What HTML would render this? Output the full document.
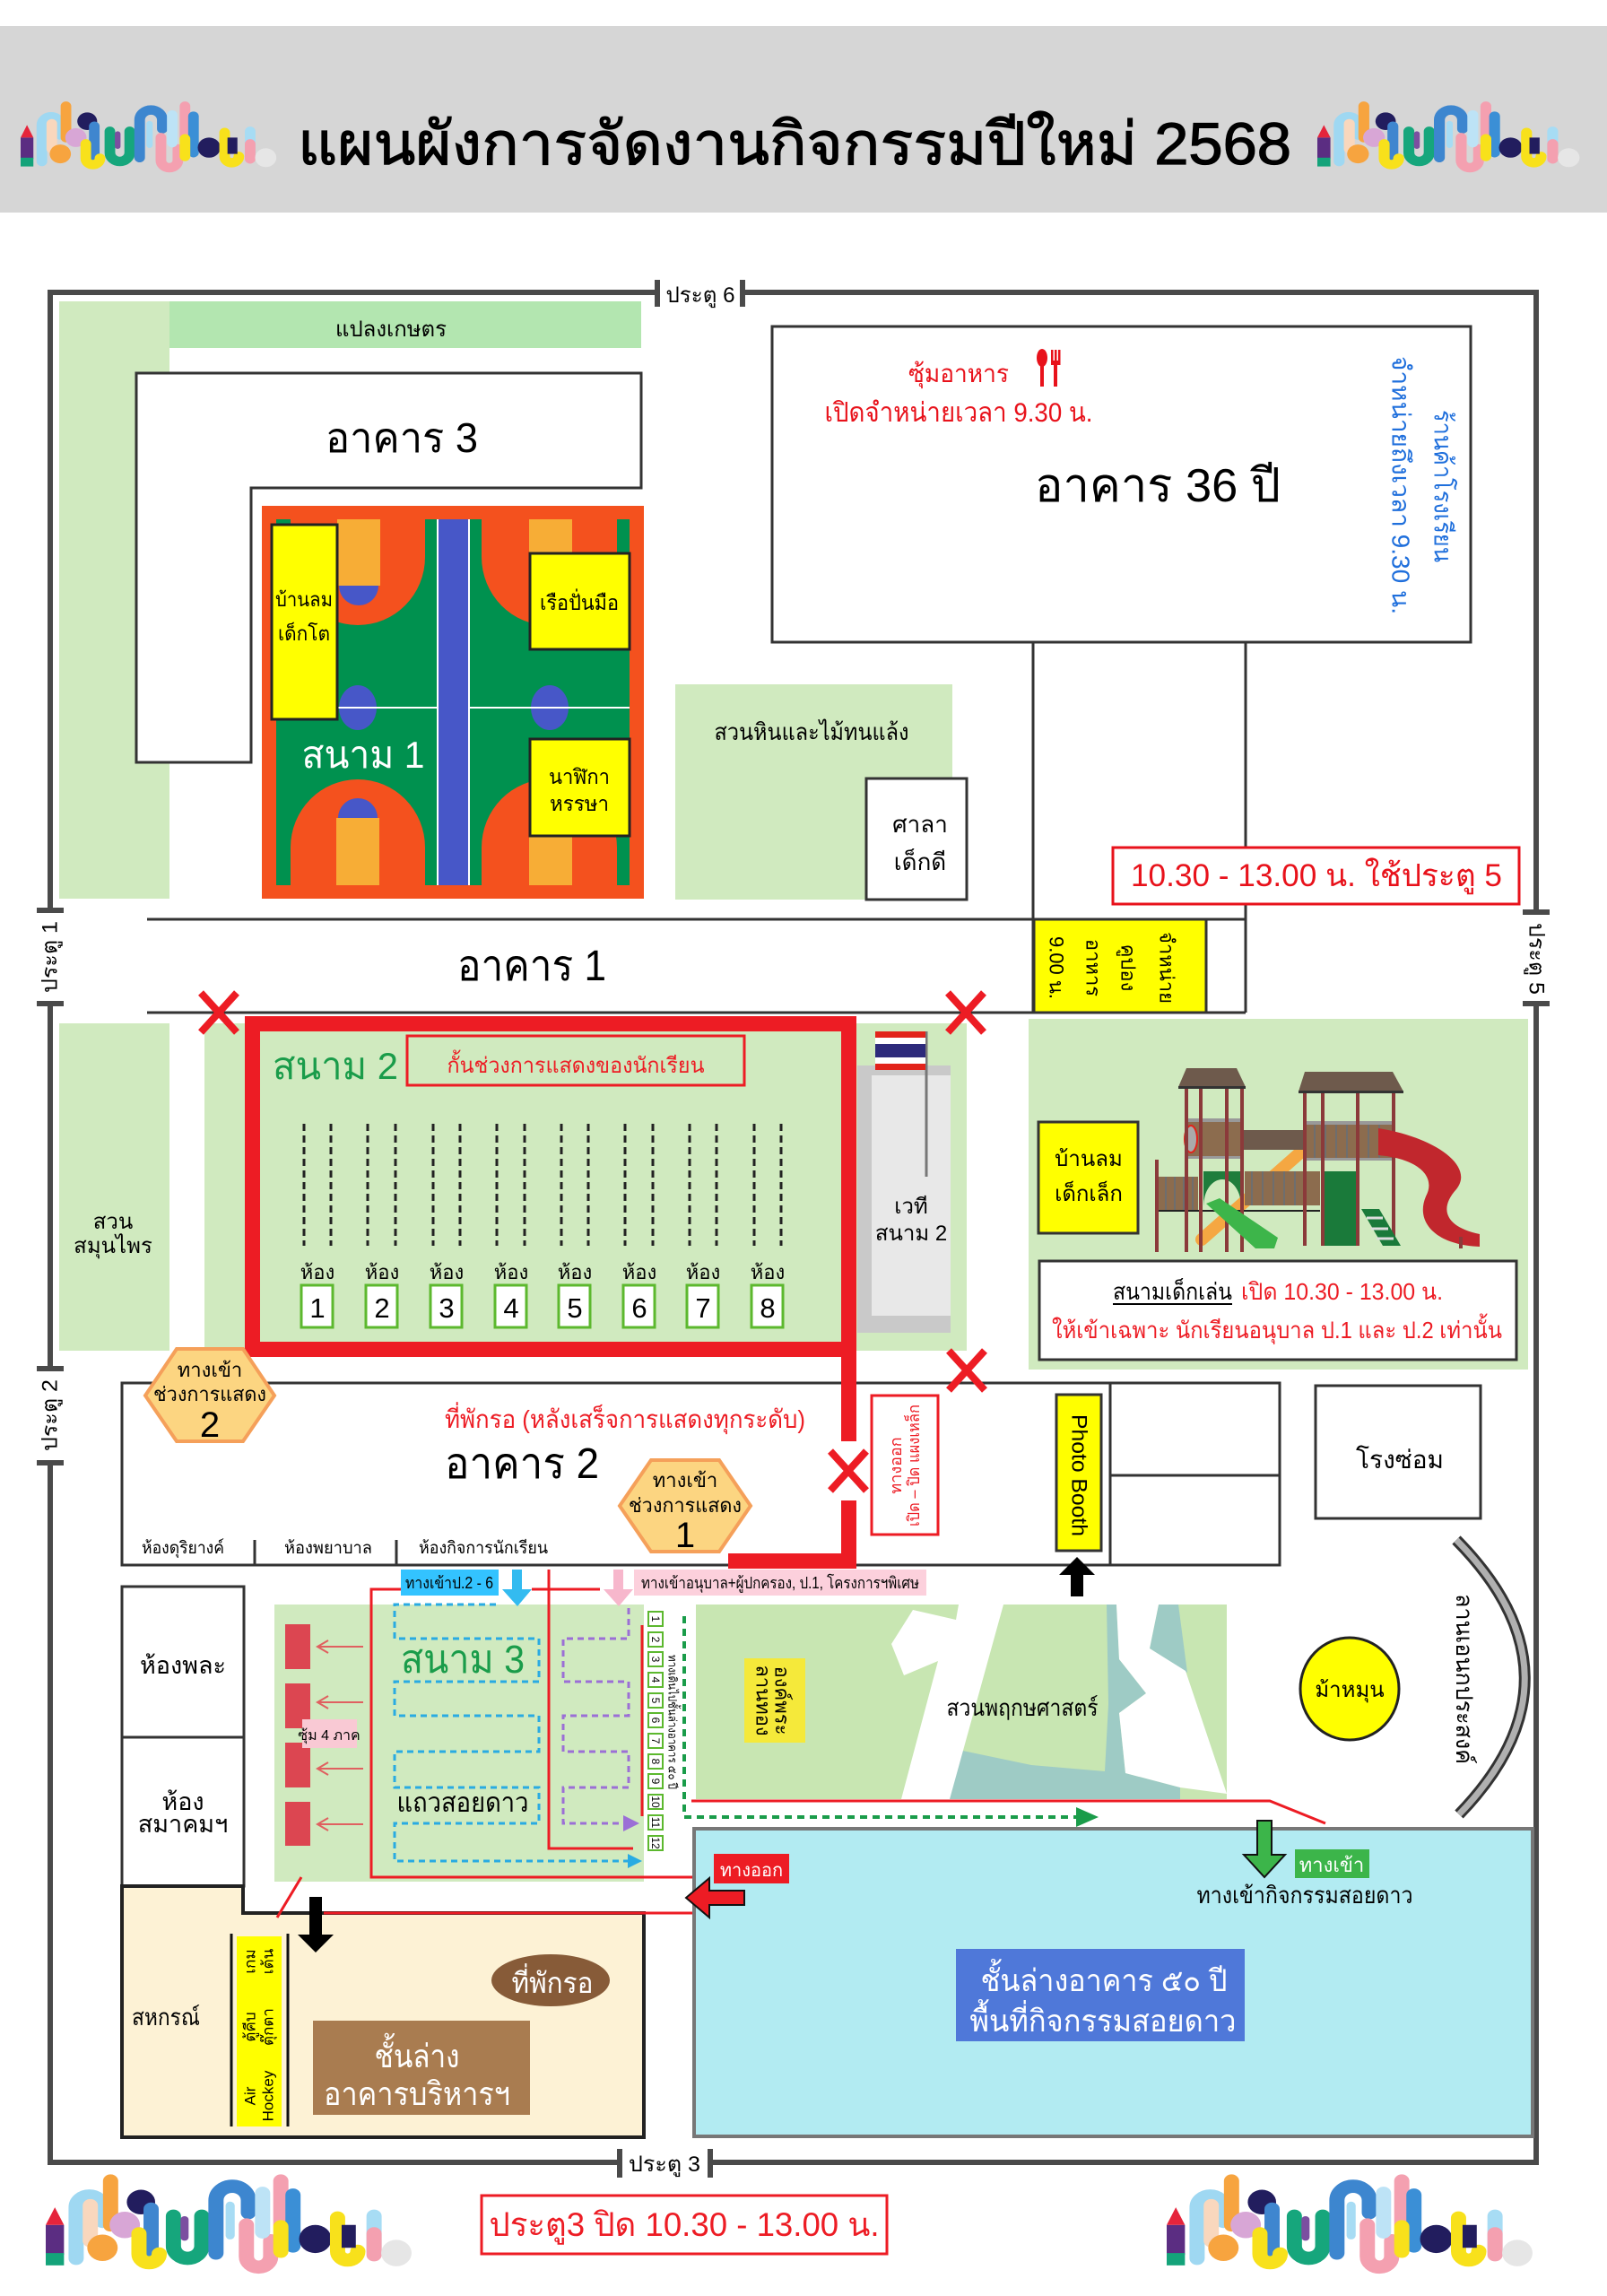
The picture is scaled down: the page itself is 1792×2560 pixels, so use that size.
<!DOCTYPE html>
<html><head><meta charset="utf-8">
<style>
html,body{margin:0;padding:0;background:#fff;}
svg{display:block;}
.t{font-family:"Liberation Sans","DejaVu Sans",sans-serif;}
</style></head>
<body>
<svg width="1792" height="2560" viewBox="0 0 1792 2560" xmlns="http://www.w3.org/2000/svg" class="t">
<defs>
<g id="logo" fill="none" stroke-linecap="round" stroke-width="15">
<rect x="0" y="62" width="18" height="34" fill="#5b2d82" stroke="none"/>
<rect x="0" y="94" width="18" height="14" fill="#14a37a" stroke="none"/>
<path d="M0,62 L9,42 L18,62Z" fill="#e5243b" stroke="none"/>
<path d="M30,100 V42 A13,13 0 0 1 56,42 V58" stroke="#9fd8f2"/>
<path d="M44,40 V80" stroke="#f9d7bd"/>
<circle cx="56" cy="88" r="15" fill="#f7a43f" stroke="none"/>
<path d="M64,12 V62" stroke="#f7a43f"/>
<circle cx="78" cy="62" r="15" fill="#d8a6d6" stroke="none"/>
<circle cx="94" cy="36" r="14" fill="#221d5e" stroke="none"/>
<path d="M104,44 V96" stroke="#3f86cf"/>
<path d="M92,72 V95 A10,10 0 0 0 112,95" stroke="#f8e11b"/>
<path d="M126,52 V86 A14,14 0 0 0 154,86 V52" stroke="#16a67c"/>
<path d="M137,56 V76" stroke="#7b4fa0" stroke-width="8"/>
<path d="M168,94 V34 A16,16 0 0 1 200,34 V48" stroke="#3d86cf"/>
<path d="M182,40 V74" stroke="#a7dcf4" stroke-width="9"/>
<path d="M198,62 V98 A12,12 0 0 0 222,98 V80" stroke="#f4a0b0"/>
<path d="M214,26 V70" stroke="#bde3f6"/>
<path d="M232,12 V62" stroke="#f4a0b0"/>
<path d="M244,28 V86" stroke="#3b8fd6"/>
<path d="M232,64 V92" stroke="#f8e11b"/>
<circle cx="266" cy="78" r="16" fill="#221d5e" stroke="none"/>
<path d="M288,54 V92 A10,10 0 0 0 308,92" stroke="#f8e11b"/>
<rect x="292" y="62" width="14" height="26" fill="#221d5e" stroke="none"/>
<path d="M324,52 V92" stroke="#a7dcf4"/>
<path d="M324,72 V96" stroke="#f4a0b0"/>
<circle cx="346" cy="94" r="15" fill="#e6e6e6" stroke="none"/>
</g>
</defs>

<!-- HEADER -->
<rect x="0" y="29" width="1792" height="208" fill="#d6d6d6"/>
<use href="#logo" transform="translate(23,110) scale(0.79,0.70)"/>
<use href="#logo" transform="translate(1469,110) scale(0.81,0.70)"/>
<text x="886" y="183" font-size="66" text-anchor="middle" textLength="1108" lengthAdjust="spacingAndGlyphs" fill="#000" stroke="#000" stroke-width="1.2">แผนผังการจัดงานกิจกรรมปีใหม่ 2568</text>

<!-- GREEN AREAS -->
<rect x="66" y="336" width="123" height="666" fill="#d0eabf"/>
<rect x="189" y="336" width="526" height="52" fill="#b3e6b0"/>
<rect x="753" y="763" width="309" height="240" fill="#d0eabf"/>
<rect x="66" y="1141" width="123" height="365" fill="#d0eabf"/>
<rect x="228" y="1141" width="850" height="365" fill="#d0eabf"/>
<rect x="1147" y="1136" width="557" height="391" fill="#d0eabf"/>
<rect x="306" y="1789" width="412" height="309" fill="#d0eabf"/>
<rect x="776" y="1789" width="592" height="217" fill="#c8e6b2"/>
<!-- botanical garden details -->
<polygon points="1234,1789 1245,1789 1248,1850 1278,1888 1248,1910 1255,1977 1316,1993 1316,2006 1059,2006 1064,1950 1150,1968 1232,1975 1236,1900" fill="#9ecbc5"/>
<polygon points="1292,1789 1314,1789 1324,1865 1282,1838" fill="#9ecbc5"/>
<polygon points="1069,1789 1119,1789 1059,2006 1005,2006 1046,1852 1008,1868 994,1833 1018,1795 1066,1806" fill="#fff"/>
<polygon points="1245,1789 1292,1789 1282,1838 1322,1863 1368,2000 1316,1993 1255,1977 1248,1910 1278,1888 1248,1850" fill="#fff"/>

<!-- OUTER WALL -->
<g stroke="#4a4a4a" stroke-width="6" fill="none">
<path d="M733,326 H56 V1015"/>
<path d="M828,326 H1713 V1017"/>
<path d="M56,1119 V1526"/>
<path d="M56,1631 V2411 H691"/>
<path d="M1713,1119 V2411 H792"/>
<path d="M733,312 V342 M828,312 V342 M691,2396 V2428 M792,2396 V2428"/>
<path d="M41,1015 H71 M41,1119 H71 M41,1526 H71 M41,1631 H71 M1698,1017 H1728 M1698,1119 H1728"/>
</g>
<text x="781" y="337" font-size="24" text-anchor="middle" textLength="77" lengthAdjust="spacingAndGlyphs">ประตู 6</text>
<text x="741" y="2421" font-size="24" text-anchor="middle" textLength="80" lengthAdjust="spacingAndGlyphs">ประตู 3</text>
<text transform="translate(56,1067) rotate(-90)" font-size="24" text-anchor="middle" dominant-baseline="central" textLength="80" lengthAdjust="spacingAndGlyphs">ประตู 1</text>
<text transform="translate(56,1578) rotate(-90)" font-size="24" text-anchor="middle" dominant-baseline="central" textLength="80" lengthAdjust="spacingAndGlyphs">ประตู 2</text>
<text transform="translate(1713,1069) rotate(90)" font-size="24" text-anchor="middle" dominant-baseline="central" textLength="80" lengthAdjust="spacingAndGlyphs">ประตู 5</text>

<!-- TOP LEFT -->
<text x="436" y="375" font-size="24" text-anchor="middle" textLength="124" lengthAdjust="spacingAndGlyphs">แปลงเกษตร</text>
<polygon points="152,416 715,416 715,544 280,544 280,850 152,850" fill="#fff" stroke="#333" stroke-width="3"/>
<text x="448" y="504" font-size="46" text-anchor="middle" textLength="170" lengthAdjust="spacingAndGlyphs">อาคาร 3</text>

<!-- COURT 1 -->
<rect x="292" y="564" width="426" height="438" fill="#f4511e"/>
<rect x="308" y="579" width="394" height="408" fill="#00914f"/>
<g fill="#f4511e">
<path d="M324,579 V621 A75,76 0 0 0 474,621 V579 Z"/>
<path d="M324,987 V945 A75,76 0 0 1 474,945 V987 Z"/>
<path d="M537,579 V621 A75,76 0 0 0 688,621 V579 Z"/>
<path d="M537,987 V945 A75,76 0 0 1 688,945 V987 Z"/>
</g>
<g fill="#f7ad36">
<rect x="376" y="579" width="48" height="74"/>
<rect x="375" y="912" width="48" height="75"/>
<rect x="590" y="579" width="48" height="74"/>
<rect x="590" y="912" width="48" height="75"/>
</g>
<g fill="#4757c8">
<path d="M378,653 A22,22 0 0 0 422,653 Z"/>
<path d="M377,912 A22,22 0 0 1 421,912 Z"/>
<path d="M592,653 A22,22 0 0 0 636,653 Z"/>
<path d="M592,912 A22,22 0 0 1 636,912 Z"/>
<ellipse cx="399" cy="789" rx="21" ry="25"/>
<ellipse cx="613" cy="789" rx="21" ry="25"/>
<rect x="488" y="579" width="35" height="408"/>
</g>
<path d="M308,789 H488 M523,789 H702 M488,579 V987 M523,579 V987" stroke="#fff" stroke-width="2"/>
<g fill="#ffff00" stroke="#222" stroke-width="3">
<rect x="303" y="585" width="73" height="217"/>
<rect x="591" y="617" width="111" height="107"/>
<rect x="591" y="824" width="111" height="108"/>
</g>
<text x="339" y="676" font-size="22" text-anchor="middle" textLength="64" lengthAdjust="spacingAndGlyphs">บ้านลม</text>
<text x="339" y="714" font-size="22" text-anchor="middle" textLength="58" lengthAdjust="spacingAndGlyphs">เด็กโต</text>
<text x="646" y="680" font-size="23" text-anchor="middle" textLength="88" lengthAdjust="spacingAndGlyphs">เรือปั่นมือ</text>
<text x="646" y="874" font-size="23" text-anchor="middle" textLength="68" lengthAdjust="spacingAndGlyphs">นาฬิกา</text>
<text x="646" y="904" font-size="23" text-anchor="middle" textLength="66" lengthAdjust="spacingAndGlyphs">หรรษา</text>
<text x="405" y="856" font-size="42" text-anchor="middle" fill="#fff" textLength="137" lengthAdjust="spacingAndGlyphs">สนาม 1</text>

<!-- TOP RIGHT -->
<rect x="861" y="364" width="779" height="352" fill="#fff" stroke="#333" stroke-width="3"/>
<text x="1069" y="426" font-size="28" text-anchor="middle" fill="#e8121b" textLength="112" lengthAdjust="spacingAndGlyphs">ซุ้มอาหาร</text>
<g fill="#e8121b">
<ellipse cx="1162" cy="399" rx="6" ry="10"/>
<rect x="1160" y="405" width="4" height="26"/>
<rect x="1172" y="390" width="2.5" height="14"/><rect x="1176" y="390" width="2.5" height="14"/><rect x="1180" y="390" width="2.5" height="14"/>
<rect x="1172" y="402" width="10.5" height="5"/>
<rect x="1175" y="405" width="4" height="26"/>
</g>
<text x="1069" y="470" font-size="30" text-anchor="middle" fill="#e8121b" textLength="299" lengthAdjust="spacingAndGlyphs">เปิดจำหน่ายเวลา 9.30 น.</text>
<text x="1291" y="559" font-size="52" text-anchor="middle" textLength="274" lengthAdjust="spacingAndGlyphs">อาคาร 36 ปี</text>
<text transform="translate(1609,542) rotate(90)" font-size="28" fill="#1f6fdc" text-anchor="middle" dominant-baseline="central" textLength="170" lengthAdjust="spacingAndGlyphs">ร้านค้าโรงเรียน</text>
<text transform="translate(1562,541) rotate(90)" font-size="28" fill="#1f6fdc" text-anchor="middle" dominant-baseline="central" textLength="288" lengthAdjust="spacingAndGlyphs">จำหน่ายถึงเวลา 9.30 น.</text>
<path d="M1152,716 V1129 M1389,716 V1129" stroke="#333" stroke-width="3"/>
<text x="905" y="825" font-size="26" text-anchor="middle" textLength="217" lengthAdjust="spacingAndGlyphs">สวนหินและไม้ทนแล้ง</text>
<rect x="966" y="868" width="112" height="135" fill="#fff" stroke="#333" stroke-width="3"/>
<text x="1026" y="928" font-size="26" text-anchor="middle">ศาลา</text>
<text x="1026" y="970" font-size="26" text-anchor="middle">เด็กดี</text>
<rect x="1241" y="945" width="453" height="63" fill="#fff" stroke="#e8121b" stroke-width="3"/>
<text x="1468" y="988" font-size="35" text-anchor="middle" fill="#e8121b" textLength="414" lengthAdjust="spacingAndGlyphs">10.30 - 13.00 น. ใช้ประตู 5</text>

<!-- BUILDING 1 -->
<path d="M164,1025 H1389 M164,1129 H1389" stroke="#333" stroke-width="3"/>
<rect x="1153" y="1025" width="192" height="104" fill="#ffff00" stroke="#333" stroke-width="3"/>
<g font-size="22" text-anchor="middle" dominant-baseline="central">
<text transform="translate(1301,1079) rotate(90)">จำหน่าย</text>
<text transform="translate(1258,1079) rotate(90)">คูปอง</text>
<text transform="translate(1219,1079) rotate(90)">อาหาร</text>
<text transform="translate(1178,1079) rotate(90)">9.00 น.</text>
</g>
<text x="593" y="1093" font-size="48" text-anchor="middle" textLength="166" lengthAdjust="spacingAndGlyphs">อาคาร 1</text>

<!-- FIELD 2 -->
<text x="126" y="1370" font-size="24" text-anchor="middle">สวน</text>
<text x="126" y="1397" font-size="24" text-anchor="middle">สมุนไพร</text>
<text x="374" y="1203" font-size="42" text-anchor="middle" fill="#1a9c4a" textLength="140" lengthAdjust="spacingAndGlyphs">สนาม 2</text>
<rect x="454" y="1155" width="376" height="55" fill="none" stroke="#ed1c24" stroke-width="3"/>
<text x="642" y="1196" font-size="24" text-anchor="middle" fill="#ed1c24" textLength="287" lengthAdjust="spacingAndGlyphs">กั้นช่วงการแสดงของนักเรียน</text>
<g stroke="#222" stroke-width="3" stroke-dasharray="8 5">
<path d="M339,1253 V1389 M369,1253 V1389 M410,1253 V1389 M441,1253 V1389 M483,1253 V1389 M513,1253 V1389 M554,1253 V1389 M585,1253 V1389 M626,1253 V1389 M656,1253 V1389 M697,1253 V1389 M728,1253 V1389 M769,1253 V1389 M799,1253 V1389 M841,1253 V1389 M871,1253 V1389"/>
</g>
<g font-size="22" text-anchor="middle">
<text x="354" y="1426">ห้อง</text><text x="426" y="1426">ห้อง</text><text x="498" y="1426">ห้อง</text><text x="570" y="1426">ห้อง</text>
<text x="641" y="1426">ห้อง</text><text x="713" y="1426">ห้อง</text><text x="784" y="1426">ห้อง</text><text x="856" y="1426">ห้อง</text>
</g>
<g fill="#fff" stroke="#5cb82e" stroke-width="3">
<rect x="336" y="1433" width="35" height="47"/><rect x="408" y="1433" width="35" height="47"/><rect x="480" y="1433" width="35" height="47"/><rect x="552" y="1433" width="35" height="47"/>
<rect x="623" y="1433" width="35" height="47"/><rect x="695" y="1433" width="35" height="47"/><rect x="766" y="1433" width="35" height="47"/><rect x="838" y="1433" width="35" height="47"/>
</g>
<g font-size="31" text-anchor="middle">
<text x="354" y="1469">1</text><text x="426" y="1469">2</text><text x="498" y="1469">3</text><text x="570" y="1469">4</text>
<text x="641" y="1469">5</text><text x="713" y="1469">6</text><text x="784" y="1469">7</text><text x="856" y="1469">8</text>
</g>
<!-- stage -->
<rect x="956" y="1188" width="104" height="298" fill="#c9c9c9"/>
<rect x="972" y="1199" width="88" height="268" fill="#e8e8e8"/>
<line x1="1033" y1="1150" x2="1033" y2="1312" stroke="#777" stroke-width="3"/>
<g>
<rect x="976" y="1150" width="56" height="7" fill="#e2231a"/>
<rect x="976" y="1157" width="56" height="7" fill="#fff"/>
<rect x="976" y="1164" width="56" height="15" fill="#2d2a7b"/>
<rect x="976" y="1179" width="56" height="7" fill="#fff"/>
<rect x="976" y="1186" width="56" height="7" fill="#e2231a"/>
</g>
<text x="1016" y="1353" font-size="24" text-anchor="middle">เวที</text>
<text x="1016" y="1383" font-size="24" text-anchor="middle">สนาม 2</text>
<!-- red frame -->
<rect x="281.5" y="1141.5" width="665" height="363" fill="none" stroke="#ed1c24" stroke-width="17"/>

<!-- PLAYGROUND -->
<rect x="1158" y="1251" width="111" height="124" fill="#ffff00" stroke="#333" stroke-width="3"/>
<text x="1214" y="1300" font-size="24" text-anchor="middle">บ้านลม</text>
<text x="1214" y="1339" font-size="24" text-anchor="middle">เด็กเล็ก</text>
<g>
<line x1="1290" y1="1293" x2="1290" y2="1396" stroke="#8b3a3a" stroke-width="4"/>
<rect x="1292" y="1312" width="44" height="38" fill="#8c6c4e"/>
<path d="M1300,1312 V1350 M1310,1312 V1350 M1320,1312 V1350 M1330,1312 V1350" stroke="#6e6e6e" stroke-width="2"/>
<line x1="1449" y1="1286" x2="1340" y2="1382" stroke="#f5a742" stroke-width="14" stroke-linecap="round"/>
<rect x="1386" y="1260" width="82" height="22" fill="#6e5a4c"/>
<rect x="1388" y="1306" width="84" height="38" fill="#8c6c4e"/>
<path d="M1396,1306 V1344 M1408,1306 V1344 M1420,1306 V1344 M1432,1306 V1344 M1444,1306 V1344 M1456,1306 V1344" stroke="#6e6e6e" stroke-width="2"/>
<path d="M1292,1350 H1472" stroke="#222" stroke-width="2"/>
<path d="M1342,1306 H1384 V1345 A21,30 0 0 0 1342,1345 Z" fill="#1f7d3c"/>
<rect x="1321" y="1250" width="65" height="41" fill="#8c6c4e"/>
<rect x="1321" y="1247" width="65" height="4" fill="#999"/>
<rect x="1321" y="1289" width="65" height="3" fill="#999"/>
<ellipse cx="1328" cy="1270" rx="7" ry="15" fill="#aaa" stroke="#e2231a" stroke-width="2"/>
<path d="M1323,1212 V1396 M1339,1212 V1396 M1368,1212 V1396 M1385,1212 V1396" stroke="#8b3a3a" stroke-width="4"/>
<polygon points="1323,1191 1379,1191 1389,1212 1314,1212" fill="#6e5a4c"/>
<rect x="1314" y="1211" width="75" height="3" fill="#333"/>
<rect x="1477" y="1306" width="37" height="83" fill="#1a7a3a"/>
<rect x="1457" y="1253" width="98" height="40" fill="#8c6c4e"/>
<rect x="1457" y="1250" width="98" height="4" fill="#999"/>
<rect x="1457" y="1291" width="98" height="3" fill="#999"/>
<path d="M1466,1254 V1291 M1478,1254 V1291 M1490,1254 V1291 M1502,1254 V1291 M1526,1254 V1291 M1538,1254 V1291" stroke="#6e6e6e" stroke-width="2"/>
<path d="M1455,1217 V1389 M1475,1217 V1389 M1514,1217 V1389 M1554,1217 V1389" stroke="#8b3a3a" stroke-width="4"/>
<polygon points="1455,1195 1553,1195 1565,1217 1448,1217" fill="#6e5a4c"/>
<rect x="1448" y="1216" width="117" height="3" fill="#333"/>
<polygon points="1345,1342 1360,1336 1425,1380 1421,1392 1400,1392" fill="#3db54a"/>
<polygon points="1518,1348 1538,1348 1562,1389 1542,1389" fill="#1a7a3a"/>
<path d="M1524,1358 H1542 M1529,1370 H1548 M1535,1381 H1554" stroke="#ddd" stroke-width="3"/>
<path d="M1537,1258 C1600,1268 1645,1300 1624,1326 C1604,1348 1612,1368 1650,1376 L1650,1390 C1600,1388 1578,1362 1590,1334 C1602,1312 1582,1292 1537,1288 Z" fill="#c1272d"/>
<line x1="1629" y1="1379" x2="1629" y2="1392" stroke="#8b3a3a" stroke-width="4"/>
</g>
<rect x="1159" y="1406" width="532" height="110" fill="#fff" stroke="#333" stroke-width="3"/>
<text x="1241" y="1449" font-size="26" textLength="133" lengthAdjust="spacingAndGlyphs">สนามเด็กเล่น</text>
<line x1="1241" y1="1454" x2="1374" y2="1454" stroke="#000" stroke-width="2"/>
<text x="1384" y="1449" font-size="26" fill="#ed1c24" textLength="225" lengthAdjust="spacingAndGlyphs">เปิด 10.30 - 13.00 น.</text>
<text x="1424" y="1492" font-size="26" fill="#ed1c24" text-anchor="middle" textLength="502" lengthAdjust="spacingAndGlyphs">ให้เข้าเฉพาะ นักเรียนอนุบาล ป.1 และ ป.2 เท่านั้น</text>

<!-- BUILDING 2 -->
<rect x="136" y="1542" width="1291" height="203" fill="#fff" stroke="#333" stroke-width="3"/>
<path d="M1238,1542 V1745 M1238,1645 H1427 M284,1717 V1745 M442,1717 V1745" stroke="#333" stroke-width="3"/>
<path d="M946.5,1500 V1607 M946.5,1673 V1748 M812,1740.5 H955" stroke="#ed1c24" stroke-width="17"/>
<text x="158" y="1732" font-size="19" textLength="92" lengthAdjust="spacingAndGlyphs">ห้องดุริยางค์</text>
<text x="317" y="1732" font-size="19" textLength="98" lengthAdjust="spacingAndGlyphs">ห้องพยาบาล</text>
<text x="467" y="1732" font-size="19" textLength="144" lengthAdjust="spacingAndGlyphs">ห้องกิจการนักเรียน</text>
<text x="697" y="1592" font-size="28" fill="#ed1c24" text-anchor="middle" textLength="402" lengthAdjust="spacingAndGlyphs">ที่พักรอ (หลังเสร็จการแสดงทุกระดับ)</text>
<text x="582" y="1648" font-size="48" text-anchor="middle" textLength="172" lengthAdjust="spacingAndGlyphs">อาคาร 2</text>
<rect x="972" y="1556" width="74" height="155" fill="#fff" stroke="#ed1c24" stroke-width="3"/>
<text transform="translate(999,1634) rotate(-90)" font-size="18" fill="#ed1c24" text-anchor="middle" dominant-baseline="central">ทางออก</text>
<text transform="translate(1019,1634) rotate(-90)" font-size="18" fill="#ed1c24" text-anchor="middle" dominant-baseline="central" textLength="136" lengthAdjust="spacingAndGlyphs">เปิด – ปิด แผงเหล็ก</text>
<rect x="1178" y="1555" width="50" height="174" fill="#ffff00" stroke="#333" stroke-width="3"/>
<text transform="translate(1203,1645) rotate(90)" font-size="24" text-anchor="middle" dominant-baseline="central" textLength="136" lengthAdjust="spacingAndGlyphs">Photo Booth</text>
<polygon points="1201,1736 1221,1756 1208,1756 1208,1780 1194,1780 1194,1756 1181,1756" fill="#000"/>
<rect x="1467" y="1545" width="184" height="148" fill="#fff" stroke="#333" stroke-width="3"/>
<text x="1561" y="1637" font-size="28" text-anchor="middle">โรงซ่อม</text>
<!-- hexagons -->
<polygon points="197,1504 271,1504 306,1556 271,1607 197,1607 162,1556" fill="#fcd581" stroke="#f5a05a" stroke-width="4"/>
<text x="234" y="1535" font-size="22" text-anchor="middle">ทางเข้า</text>
<text x="234" y="1562" font-size="22" text-anchor="middle" textLength="126" lengthAdjust="spacingAndGlyphs">ช่วงการแสดง</text>
<text x="234" y="1602" font-size="40" text-anchor="middle">2</text>
<polygon points="726,1628 802,1628 837,1679 802,1730 726,1730 691,1679" fill="#fcd581" stroke="#f5a05a" stroke-width="4"/>
<text x="764" y="1658" font-size="22" text-anchor="middle">ทางเข้า</text>
<text x="764" y="1686" font-size="22" text-anchor="middle" textLength="126" lengthAdjust="spacingAndGlyphs">ช่วงการแสดง</text>
<text x="764" y="1725" font-size="40" text-anchor="middle">1</text>

<!-- multipurpose arc -->
<path d="M1624,1717 Q1775,1870 1627,2023" fill="none" stroke="#333" stroke-width="13"/>
<path d="M1624,1717 Q1775,1870 1627,2023" fill="none" stroke="#b0b0b0" stroke-width="7"/>
<text transform="translate(1633,1872) rotate(90)" font-size="26" text-anchor="middle" dominant-baseline="central" textLength="190" lengthAdjust="spacingAndGlyphs">ลานเอนกประสงค์</text>
<ellipse cx="1505" cy="1883" rx="55" ry="57" fill="#ffff00" stroke="#222" stroke-width="3"/>
<text x="1505" y="1892" font-size="24" text-anchor="middle">ม้าหมุน</text>
<text x="1140" y="1913" font-size="26" text-anchor="middle" textLength="169" lengthAdjust="spacingAndGlyphs">สวนพฤกษศาสตร์</text>
<rect x="830" y="1849" width="68" height="94" fill="#f5e93a"/>
<text transform="translate(872,1896) rotate(90)" font-size="22" text-anchor="middle" dominant-baseline="central">องค์พระ</text>
<text transform="translate(851,1896) rotate(90)" font-size="22" text-anchor="middle" dominant-baseline="central">ลานทอง</text>

<!-- FIELD 3 area -->
<rect x="136" y="1769" width="136" height="168" fill="#fff" stroke="#333" stroke-width="3"/>
<rect x="136" y="1937" width="136" height="166" fill="#fff" stroke="#333" stroke-width="3"/>
<text x="204" y="1866" font-size="27" text-anchor="middle">ห้องพละ</text>
<text x="204" y="2018" font-size="27" text-anchor="middle">ห้อง</text>
<text x="204" y="2043" font-size="27" text-anchor="middle">สมาคมฯ</text>
<polygon points="136,2103 271,2103 271,2133 718,2133 718,2383 136,2383" fill="#fdf2d5" stroke="#222" stroke-width="4"/>
<g fill="#dc4651">
<rect x="318" y="1811" width="28" height="50"/><rect x="318" y="1877" width="28" height="50"/>
<rect x="318" y="1943" width="28" height="50"/><rect x="318" y="2009" width="28" height="49"/>
</g>
<g stroke="#e06060" stroke-width="2" fill="none">
<path d="M405,1836 H354 M366,1829 L354,1836 L366,1843"/>
<path d="M405,1898 H354 M366,1891 L354,1898 L366,1905"/>
<path d="M405,1972 H354 M366,1965 L354,1972 L366,1979"/>
<path d="M405,2034 H354 M366,2027 L354,2034 L366,2041"/>
</g>
<rect x="337" y="1917" width="61" height="32" fill="#f9c9d4"/>
<text x="367" y="1940" font-size="16" text-anchor="middle">ซุ้ม 4 ภาค</text>
<!-- dashed snakes -->
<path d="M553,1789 H440 V1827 H601 V1875 H440 V1913 H601 V1953 H440 V1993 H601 V2033 H440 V2075 H703" fill="none" stroke="#29abe2" stroke-width="3" stroke-dasharray="7 5"/>
<polygon points="700,2067 716,2075 700,2083" fill="#29abe2"/>
<path d="M701,1793 V1827 H628 V1875 H701 V1913 H628 V1953 H701 V1993 H628 V2033 H697" fill="none" stroke="#9b6fd6" stroke-width="3" stroke-dasharray="7 5"/>
<polygon points="695,2024 713,2033 695,2042" fill="#9b6fd6"/>
<text x="516" y="1865" font-size="44" text-anchor="middle" fill="#1a9c4a" textLength="138" lengthAdjust="spacingAndGlyphs">สนาม 3</text>
<text x="516" y="2020" font-size="30" text-anchor="middle" textLength="147" lengthAdjust="spacingAndGlyphs">แถวสอยดาว</text>
<!-- red thin lines -->
<g stroke="#ed1c24" stroke-width="3" fill="none">
<path d="M447,1772 H414 V2093 H775"/>
<path d="M336,2093 L309,2138"/>
<path d="M361,2133 H775"/>
<path d="M593,1772 H669"/>
<path d="M612,1750 V2061 H706"/>
<path d="M716,1812 V2025"/>
<path d="M771,2008 H1416 L1478,2033"/>
</g>
<!-- entry labels -->
<rect x="447" y="1750" width="109" height="29" fill="#33c3ff"/>
<text x="501" y="1771" font-size="18" text-anchor="middle" textLength="98" lengthAdjust="spacingAndGlyphs">ทางเข้าป.2 - 6</text>
<polygon points="571,1750 582,1750 582,1772 593,1772 577,1791 560,1772 571,1772" fill="#33bbf0"/>
<rect x="707" y="1750" width="326" height="29" fill="#fcd0dc"/>
<text x="870" y="1771" font-size="18" text-anchor="middle" textLength="310" lengthAdjust="spacingAndGlyphs">ทางเข้าอนุบาล+ผู้ปกครอง, ป.1, โครงการฯพิเศษ</text>
<polygon points="684,1750 695,1750 695,1772 706,1772 690,1791 673,1772 684,1772" fill="#f7b7cc"/>
<!-- numbered column -->
<g fill="#fff" stroke="#5cb82e" stroke-width="2">
<rect x="723" y="1797" width="16" height="16"/><rect x="723" y="1820" width="16" height="16"/><rect x="723" y="1842" width="16" height="16"/><rect x="723" y="1865" width="16" height="16"/>
<rect x="723" y="1888" width="16" height="16"/><rect x="723" y="1910" width="16" height="16"/><rect x="723" y="1933" width="16" height="16"/><rect x="723" y="1956" width="16" height="16"/>
<rect x="723" y="1978" width="16" height="16"/><rect x="723" y="2001" width="16" height="16"/><rect x="723" y="2024" width="16" height="16"/><rect x="723" y="2047" width="16" height="16"/>
</g>
<g font-size="12" text-anchor="middle" dominant-baseline="central">
<text transform="translate(731,1805) rotate(90)">1</text><text transform="translate(731,1828) rotate(90)">2</text><text transform="translate(731,1850) rotate(90)">3</text><text transform="translate(731,1873) rotate(90)">4</text>
<text transform="translate(731,1896) rotate(90)">5</text><text transform="translate(731,1918) rotate(90)">6</text><text transform="translate(731,1941) rotate(90)">7</text><text transform="translate(731,1964) rotate(90)">8</text>
<text transform="translate(731,1986) rotate(90)">9</text><text transform="translate(731,2009) rotate(90)">10</text><text transform="translate(731,2032) rotate(90)">11</text><text transform="translate(731,2055) rotate(90)">12</text>
</g>
<text transform="translate(750,1920) rotate(90)" font-size="13" text-anchor="middle" dominant-baseline="central" textLength="150" lengthAdjust="spacingAndGlyphs">ทางเดินไปชั้นล่างอาคาร ๕๐ ปี</text>
<path d="M763,1802 V2026 H1202" fill="none" stroke="#1a9c4a" stroke-width="4" stroke-dasharray="8 6"/>
<polygon points="1200,2015 1225,2026 1200,2037" fill="#1a9c4a"/>

<!-- co-op area -->
<path d="M258,2156 V2371 M321,2156 V2371" stroke="#111" stroke-width="3"/>
<rect x="264" y="2159" width="50" height="212" fill="#ffff00"/>
<g font-size="17" text-anchor="middle" dominant-baseline="central">
<text transform="translate(279,2187) rotate(-90)">เกม</text>
<text transform="translate(299,2187) rotate(-90)">เต้น</text>
<text transform="translate(279,2260) rotate(-90)">ตู้คีบ</text>
<text transform="translate(299,2260) rotate(-90)">ตุ๊กตา</text>
<text transform="translate(279,2337) rotate(-90)">Air</text>
<text transform="translate(299,2337) rotate(-90)">Hockey</text>
</g>
<text x="185" y="2258" font-size="26" text-anchor="middle" textLength="76" lengthAdjust="spacingAndGlyphs">สหกรณ์</text>
<polygon points="345,2115 359,2115 359,2157 372,2157 352,2177 332,2157 345,2157" fill="#000"/>
<ellipse cx="614" cy="2208" rx="66" ry="29" fill="#875b38"/>
<text x="616" y="2222" font-size="32" fill="#fff" text-anchor="middle" textLength="91" lengthAdjust="spacingAndGlyphs">ที่พักรอ</text>
<rect x="349" y="2253" width="242" height="105" fill="#a97c50"/>
<text x="465" y="2305" font-size="36" fill="#fff" text-anchor="middle" textLength="95" lengthAdjust="spacingAndGlyphs">ชั้นล่าง</text>
<text x="465" y="2347" font-size="36" fill="#fff" text-anchor="middle" textLength="208" lengthAdjust="spacingAndGlyphs">อาคารบริหารฯ</text>

<!-- blue building -->
<rect x="774" y="2039" width="935" height="343" fill="#b2ebf2" stroke="#777" stroke-width="4"/>
<polygon points="1402,2030 1418,2030 1418,2068 1433,2068 1410,2093 1387,2068 1402,2068" fill="#3cb54a" stroke="#111" stroke-width="2"/>
<rect x="1444" y="2062" width="83" height="32" fill="#3cb54a"/>
<text x="1485" y="2087" font-size="22" fill="#fff" text-anchor="middle">ทางเข้า</text>
<text x="1455" y="2122" font-size="26" text-anchor="middle" textLength="241" lengthAdjust="spacingAndGlyphs">ทางเข้ากิจกรรมสอยดาว</text>
<rect x="1066" y="2173" width="322" height="103" fill="#4f78d9"/>
<text x="1231" y="2220" font-size="34" fill="#fff" text-anchor="middle" textLength="275" lengthAdjust="spacingAndGlyphs">ชั้นล่างอาคาร ๕๐ ปี</text>
<text x="1230" y="2265" font-size="34" fill="#fff" text-anchor="middle" textLength="297" lengthAdjust="spacingAndGlyphs">พื้นที่กิจกรรมสอยดาว</text>
<rect x="796" y="2067" width="84" height="33" fill="#ed1c24"/>
<text x="838" y="2092" font-size="20" fill="#fff" text-anchor="middle">ทางออก</text>
<polygon points="765,2116 791,2094 791,2108 830,2108 830,2124 791,2124 791,2138" fill="#ed1c24" stroke="#111" stroke-width="2"/>

<!-- RED X MARKS -->
<g stroke="#ed1c24" stroke-width="8" stroke-linecap="butt">
<path d="M224,1107 L264,1151 M264,1107 L224,1151"/>
<path d="M1057,1107 L1097,1151 M1097,1107 L1057,1151"/>
<path d="M1058,1506 L1098,1550 M1098,1506 L1058,1550"/>
<path d="M926,1618 L966,1662 M966,1618 L926,1662"/>
</g>

<!-- BOTTOM -->
<use href="#logo" transform="translate(51,2420) scale(1.13,0.98)"/>
<use href="#logo" transform="translate(1301,2420) scale(1.13,0.98)"/>
<rect x="537" y="2448" width="452" height="65" fill="#fff" stroke="#ed1c24" stroke-width="3"/>
<text x="763" y="2493" font-size="37" fill="#ed1c24" text-anchor="middle" textLength="435" lengthAdjust="spacingAndGlyphs">ประตู3 ปิด 10.30 - 13.00 น.</text>
</svg>
</body></html>
